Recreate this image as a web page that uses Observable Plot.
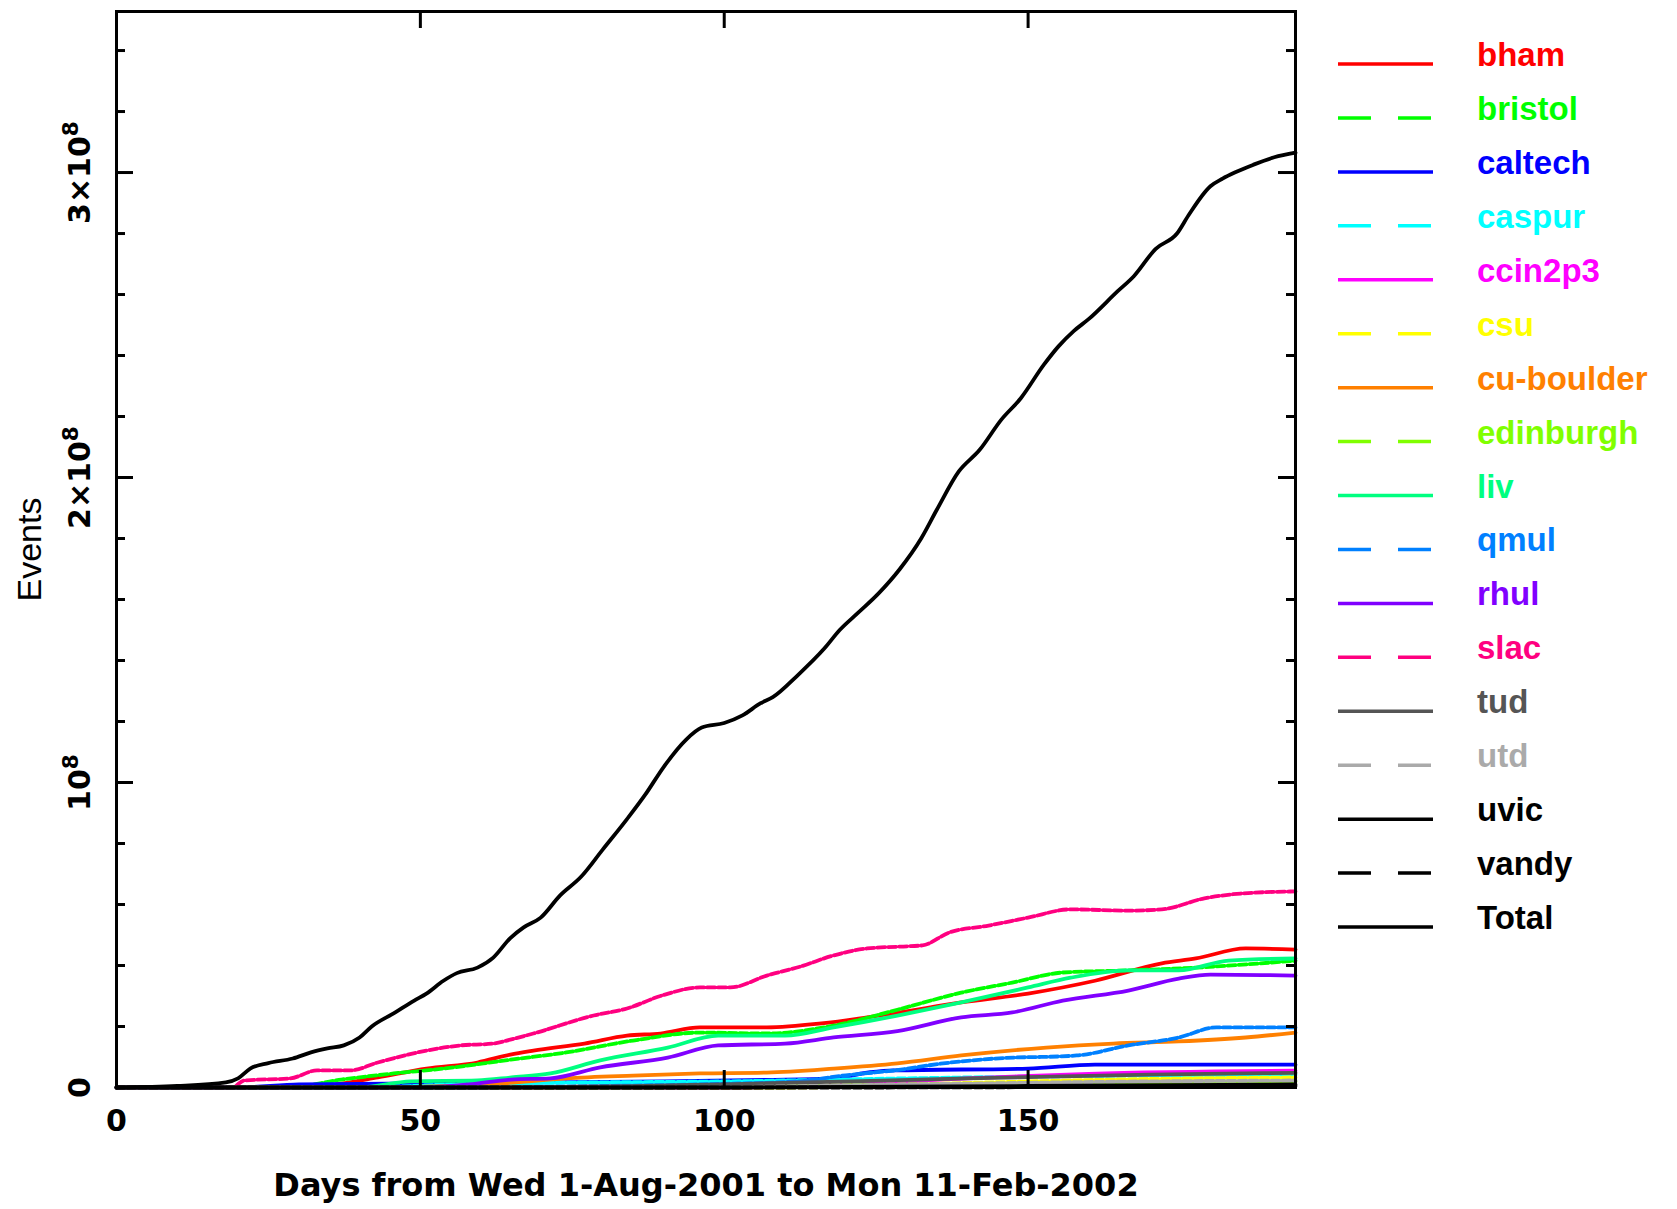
<!DOCTYPE html>
<html><head><meta charset="utf-8">
<script src="https://cdn.jsdelivr.net/npm/d3@7"></script>
<script src="https://cdn.jsdelivr.net/npm/@observablehq/plot@0.6"></script>
<style>
html,body{margin:0;padding:0;background:#fff;}
#wrap{position:relative;width:1677px;height:1209px;overflow:hidden;background:#fff;}
#legend{position:absolute;left:0;top:0;}
</style></head><body><div id="wrap"></div>
<script>
// ---- data (values in units of 1e7 events) ----
const UNIT = 1e7;
const seriesNames  = ["bham","bristol","caltech","caspur","ccin2p3","csu","cu-boulder","edinburgh","liv","qmul","rhul","slac","tud","utd","uvic","vandy","Total"];
const seriesColors = ["#ff0000","#00ff00","#0000ff","#00ffff","#ff00ff","#ffff00","#ff8000","#80ff00","#00ff80","#0080ff","#8000ff","#ff0080","#555555","#aaaaaa","#000000","#000000","#000000"];
const seriesDashed = [false,true,false,true,false,true,false,true,false,true,false,true,false,true,false,true,false];

const bham = [[0,0],[30,0],[36,0.1],[43,0.33],[51,0.62],[59.4,0.82],[64.8,1.08],[68.6,1.21],[77,1.44],[84,1.7],[89.5,1.77],[96,1.97],[107,1.97],[116,2.1],[123.5,2.3],[128.5,2.45],[139,2.79],[150,3.08],[161,3.5],[172,4.07],[177.6,4.23],[185.8,4.56],[194,4.52]];
const bristol = [[0,0],[28,0],[37,0.26],[45.6,0.46],[53.8,0.62],[64,0.89],[74,1.15],[85,1.54],[96,1.8],[107,1.77],[118,2.03],[128.5,2.55],[139,3.11],[147.4,3.44],[155.7,3.77],[166.5,3.84],[177.6,3.93],[194,4.16]];
const caltech = [[0,0],[20,0],[30,0.1],[60,0.15],[90,0.2],[107,0.25],[118,0.3],[124,0.5],[128,0.56],[150,0.62],[161,0.75],[194,0.75]];
const caspur = [[0,0],[40,0],[55,0.1],[70,0.15],[100,0.2],[130,0.3],[160,0.38],[194,0.42]];
const ccin2p3 = [[0,0],[100,0],[120,0.1],[140,0.3],[160,0.45],[194,0.55]];
const csu = [[0,0],[110,0],[140,0.15],[170,0.28],[194,0.33]];
const cuBoulder = [[0,0],[40,0],[55,0.05],[63,0.13],[74,0.3],[85,0.39],[96,0.46],[107,0.49],[118,0.62],[128.5,0.79],[139,1.05],[153,1.31],[164,1.44],[174.8,1.51],[185.8,1.64],[194,1.8]];
const edinburgh = [[0,0],[80,0],[120,0.08],[160,0.15],[194,0.2]];
const liv = [[0,0],[40,0],[48.4,0.2],[59.4,0.23],[65,0.33],[71.4,0.46],[79.6,0.89],[90.7,1.31],[99,1.7],[110,1.7],[118,1.97],[128.5,2.36],[139,2.79],[150,3.28],[157,3.6],[166.5,3.84],[174.8,3.84],[183,4.16],[194,4.23]];
const qmul = [[0,0],[60,0],[80,0.05],[100,0.12],[112,0.2],[120,0.4],[128,0.56],[136,0.79],[144.6,0.95],[158,1.05],[166.5,1.38],[174.8,1.64],[181,1.97],[194,1.97]];
const rhul = [[0,0],[50,0],[58,0.1],[65,0.26],[71.4,0.3],[79.6,0.66],[90.7,0.98],[99,1.38],[110,1.44],[118,1.64],[128.5,1.85],[139,2.3],[147.4,2.46],[155.7,2.85],[166.5,3.18],[174.8,3.57],[180,3.7],[194,3.67]];
const slac = [[0,0],[19,0],[21,0.23],[28.6,0.3],[33,0.56],[38.5,0.56],[43,0.82],[51,1.21],[56.6,1.38],[62,1.44],[64.8,1.57],[68.6,1.77],[78.5,2.36],[84,2.59],[89.5,3.0],[96,3.28],[101,3.28],[107,3.67],[112.6,3.97],[118,4.33],[123.5,4.56],[129,4.62],[132.6,4.66],[137,5.08],[143.5,5.31],[150,5.57],[157,5.84],[166.5,5.8],[172,5.84],[179,6.2],[185,6.36],[194,6.43]];
const tud = [[0,0],[60,0],[100,0.1],[140,0.3],[170,0.42],[194,0.48]];
const utd = [[0,0],[90,0],[130,0.1],[170,0.2],[194,0.23]];
const uvic = [[0,0],[100,0],[150,0.05],[194,0.1]];
const vandy = [[0,0],[120,0],[194,0.05]];
const total = [[0,0],[10,0.05],[18,0.17],[20,0.3],[22,0.62],[25,0.8],[29,0.95],[32,1.15],[34.7,1.28],[37.4,1.38],[40,1.64],[42,2.0],[45.6,2.43],[49,2.85],[51,3.08],[53.8,3.5],[56,3.75],[59.4,3.93],[62,4.26],[64.8,4.9],[67,5.25],[69.8,5.57],[73,6.3],[76.4,6.9],[80,7.8],[84,8.8],[87,9.6],[90,10.5],[93.7,11.4],[96.3,11.8],[100,11.95],[103,12.2],[106,12.6],[108,12.8],[112,13.5],[116.5,14.4],[119,15.0],[122,15.56],[125.4,16.2],[128.9,17.0],[132.4,18.0],[135,18.95],[138.6,20.2],[142,20.9],[145.6,21.9],[148.8,22.6],[152.6,23.7],[155,24.3],[157.5,24.8],[160,25.2],[164.7,26.1],[167.4,26.6],[171,27.5],[174.5,28.0],[176.4,28.6],[180,29.55],[182,29.8],[184,30.0],[187,30.25],[190.5,30.5],[194,30.65]];
const seriesData = [bham,bristol,caltech,caspur,ccin2p3,csu,cuBoulder,edinburgh,liv,qmul,rhul,slac,tud,utd,uvic,vandy,total];

const xDomain = [0, 194];
const yDomain = [0, 3.528e8];
const xTickValues = [0, 50, 100, 150];
const xInnerTicks = [50, 100, 150];
const yTickValues = [0, 1e8, 2e8, 3e8];
const yTickLabels = ["0", "10^8", "2×10^8", "3×10^8"];
const yMajorTicks = [1e8, 2e8, 3e8];
const yMinorTicks = [2e7,4e7,6e7,8e7,12e7,14e7,16e7,18e7,22e7,24e7,26e7,28e7,32e7,34e7];
const xTitle = "Days from Wed 1-Aug-2001 to Mon 11-Feb-2002";
const yTitle = "Events";

// ---- layout ----
const W = 1677, H = 1209, mL = 116, mR = 382, mT = 11, mB = 122;
const innerW = W - mL - mR, innerH = H - mT - mB;
const majorLen = 17, minorLen = 9;
const tickFont = {fontFamily: "DejaVu Sans", fontWeight: "bold", fontSize: 30, fill: "black"};

const lineMarks = seriesNames.map((name, i) => Plot.line(
  seriesData[i].map(([d, v]) => ({day: d, value: v * UNIT})),
  {x: "day", y: "value", stroke: seriesColors[i], strokeWidth: 3.8,
   strokeDasharray: seriesDashed[i] ? "8,3" : null, curve: "monotone-x"}
));

const yLab = yTickValues.map((v, i) => ({value: v, label: yTickLabels[i]}));

const chart = Plot.plot({
  width: W, height: H,
  marginLeft: mL, marginRight: mR, marginTop: mT, marginBottom: mB,
  x: {domain: xDomain, axis: null},
  y: {domain: yDomain, axis: null},
  style: {background: "white", overflow: "visible"},
  marks: [
    ...lineMarks,
    Plot.frame({stroke: "black", strokeWidth: 3}),
    Plot.tickY(yMajorTicks, {y: d => d, insetRight: innerW - majorLen, stroke: "black", strokeWidth: 3}),
    Plot.tickY(yMajorTicks, {y: d => d, insetLeft: innerW - majorLen, stroke: "black", strokeWidth: 3}),
    Plot.tickY(yMinorTicks, {y: d => d, insetRight: innerW - minorLen, stroke: "black", strokeWidth: 3}),
    Plot.tickY(yMinorTicks, {y: d => d, insetLeft: innerW - minorLen, stroke: "black", strokeWidth: 3}),
    Plot.tickX(xInnerTicks, {x: d => d, insetBottom: innerH - majorLen, stroke: "black", strokeWidth: 3}),
    Plot.tickX(xInnerTicks, {x: d => d, insetTop: innerH - majorLen, stroke: "black", strokeWidth: 3}),
    Plot.text(yLab, {y: "value", text: "label", frameAnchor: "left", dx: -36, rotate: -90,
      textAnchor: "middle", lineAnchor: "middle", ...tickFont}),
    Plot.text(xTickValues, {x: d => d, text: d => String(d), frameAnchor: "bottom", dy: 34,
      textAnchor: "middle", lineAnchor: "middle", ...tickFont}),
    Plot.text([xTitle], {text: d => d, frameAnchor: "bottom", dy: 98, textAnchor: "middle", lineAnchor: "middle",
      fontFamily: "DejaVu Sans", fontWeight: "bold", fontSize: 32, fill: "black"}),
    Plot.text([yTitle], {text: d => d, frameAnchor: "left", dx: -86, rotate: -90, textAnchor: "middle", lineAnchor: "middle",
      fontFamily: "Liberation Sans", fontSize: 34, fill: "black"})
  ]
});

// superscripts for power-of-ten labels
d3.select(chart).selectAll("text").each(function() {
  const node = this;
  const s = node.textContent;
  if (s && s.includes("^")) {
    const [base, exp] = s.split("^");
    while (node.firstChild) node.removeChild(node.firstChild);
    const t = d3.select(node);
    t.append("tspan").text(base);
    t.append("tspan").attr("dy", "-0.55em").attr("font-size", "0.72em").text(exp);
  }
});

const wrap = document.getElementById("wrap");
wrap.appendChild(chart);

// ---- legend (right of plot) ----
const legX1 = 1338, legX2 = 1433, legTextX = 1477, legY0 = 64, legStep = 53.94;
const leg = d3.select(wrap).append("svg").attr("id", "legend").attr("width", W).attr("height", H);
seriesNames.forEach((name, i) => {
  const y = legY0 + i * legStep;
  leg.append("line").attr("x1", legX1).attr("x2", legX2).attr("y1", y).attr("y2", y)
    .attr("stroke", seriesColors[i]).attr("stroke-width", 3.5)
    .attr("stroke-dasharray", seriesDashed[i] ? "33,27" : null);
  leg.append("text").attr("x", legTextX).attr("y", y + 2)
    .attr("font-family", "Liberation Sans").attr("font-weight", "bold").attr("font-size", 33)
    .attr("fill", seriesColors[i]).text(name);
});
</script></body></html>
